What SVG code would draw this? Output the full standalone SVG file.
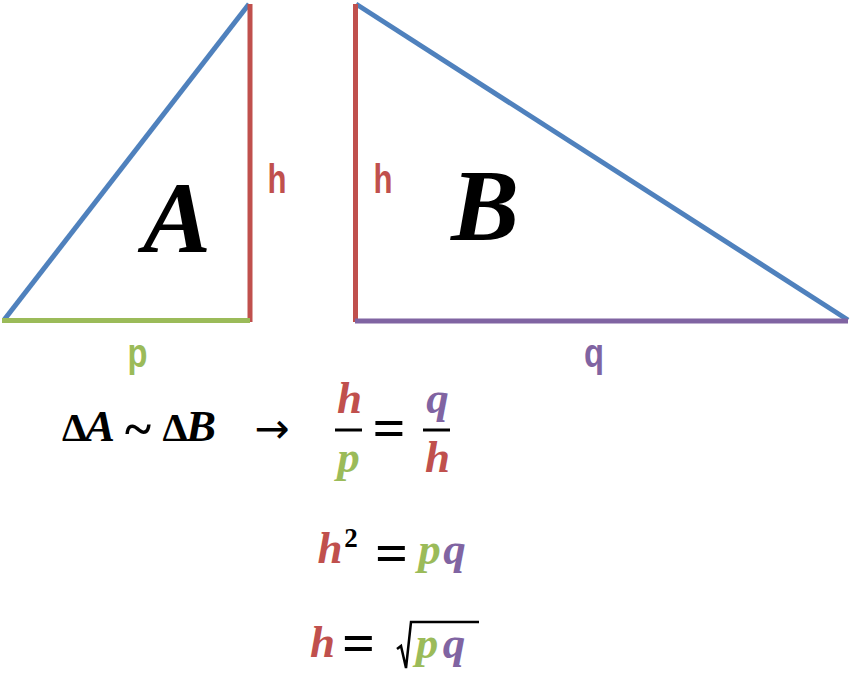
<svg xmlns="http://www.w3.org/2000/svg" width="850" height="674" viewBox="0 0 850 674">
<style>
.ln{stroke-width:5;fill:none;stroke-linecap:butt}
.blue{stroke:#4F81BD}.red{stroke:#C0504D}.green{stroke:#9BBB59}.purple{stroke:#8064A2}
.lbl{font-family:"Liberation Sans","Open Sans",sans-serif;font-weight:bold;font-size:40px;text-anchor:middle}
.big{font-family:"Liberation Serif","DejaVu Serif",serif;font-weight:bold;font-style:italic;font-size:102px;text-anchor:middle;fill:#000}
.m{font-family:"Liberation Serif","DejaVu Serif",serif;font-weight:bold;font-style:italic;font-size:45px;text-anchor:middle}
.mu{font-family:"Liberation Serif","DejaVu Serif",serif;font-weight:bold;font-size:40px;text-anchor:middle;fill:#000}
.eq{font-family:"Liberation Serif","DejaVu Serif",serif;font-weight:bold;font-size:58px;text-anchor:middle;fill:#000}
.sup{font-family:"Liberation Serif","DejaVu Serif",serif;font-weight:bold;font-size:27px;text-anchor:middle;fill:#000}
.arr{font-family:"DejaVu Sans","Liberation Sans",sans-serif;font-size:42px;text-anchor:middle;fill:#000}
.cr{fill:#C0504D}.cg{fill:#9BBB59}.cp{fill:#8064A2}.ck{fill:#000}
</style>
<rect width="850" height="674" fill="#fff"/>
<g id="triangleA">
<line class="ln blue" x1="4" y1="320" x2="249" y2="4"/>
<line class="ln red" x1="250" y1="4" x2="250" y2="322"/>
<line class="ln green" x1="2" y1="320.5" x2="250" y2="320.5"/>
<text class="big" x="177" y="252">A</text>
</g>
<g id="triangleB">
<line class="ln blue" x1="356" y1="4" x2="848" y2="320"/>
<line class="ln red" x1="355.5" y1="4" x2="355.5" y2="322"/>
<line class="ln purple" x1="355" y1="321" x2="848" y2="321"/>
<text class="big" x="485" y="240">B</text>
</g>
<g id="labels">
<text class="lbl cr" x="277" y="193" textLength="19" lengthAdjust="spacingAndGlyphs">h</text>
<text class="lbl cr" x="383" y="193" textLength="19" lengthAdjust="spacingAndGlyphs">h</text>
<text class="lbl cg" x="137.5" y="367" textLength="20" lengthAdjust="spacingAndGlyphs">p</text>
<text class="lbl cp" x="594" y="367" textLength="20" lengthAdjust="spacingAndGlyphs">q</text>
</g>
<g id="similarity">
<text class="mu" x="74.5" y="441">Δ</text>
<text class="m ck" x="100" y="441">A</text>
<text class="eq" x="138" y="446" style="font-size:50px">~</text>
<text class="mu" x="175" y="441">Δ</text>
<text class="m ck" x="201" y="441">B</text>
<text class="arr" x="272" y="443">→</text>
</g>
<g id="ratio">
<text class="m cr" x="349.5" y="413">h</text>
<line x1="335" y1="430" x2="362" y2="430" stroke="#000" stroke-width="3"/>
<text class="m cg" x="348.5" y="472">p</text>
<text class="eq" x="389" y="447">=</text>
<text class="m cp" x="437.5" y="413">q</text>
<line x1="423" y1="430" x2="450" y2="430" stroke="#000" stroke-width="3"/>
<text class="m cr" x="437.5" y="472">h</text>
</g>
<g id="square">
<text class="m cr" x="330" y="563">h</text>
<text class="sup" x="351" y="547">2</text>
<text class="eq" x="391.5" y="572">=</text>
<text class="m cg" x="429.5" y="564">p</text>
<text class="m cp" x="454.5" y="564">q</text>
</g>
<g id="root">
<text class="m cr" x="322.5" y="657">h</text>
<text class="eq" x="358.5" y="662">=</text>
<path d="M397,649 L401,646 L406,668 L411,622 L479,622" fill="none" stroke="#000" stroke-width="2.5" stroke-linejoin="miter"/>
<text class="m cg" x="427" y="658">p</text>
<text class="m cp" x="454" y="658">q</text>
</g>
</svg>
